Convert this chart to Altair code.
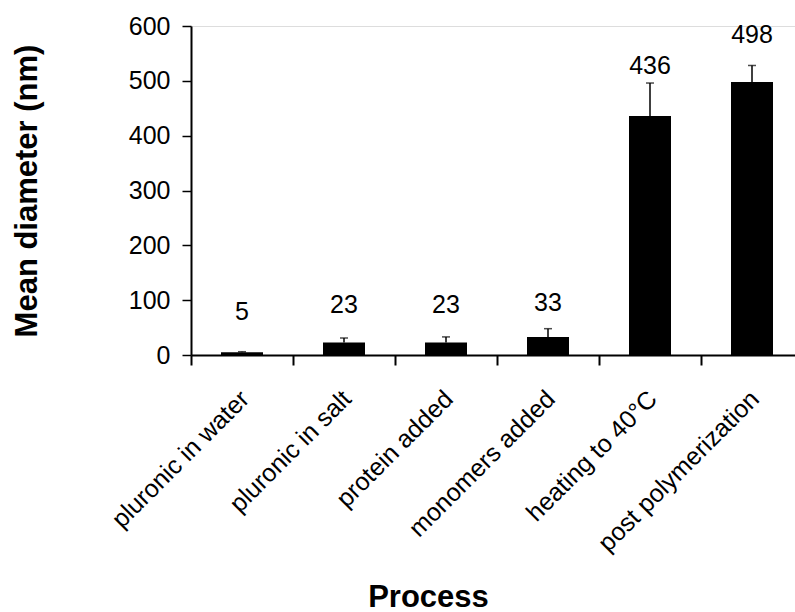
import altair as alt
import pandas as pd

processes = ["pluronic in water", "pluronic in salt", "protein added",
             "monomers added", "heating to 40°C", "post polymerization"]
mean_diameter = [5, 23, 23, 33, 436, 498]
error_up = [1, 8, 10, 15, 60, 30]
label_height = [78, 91, 91, 95, 527, 584]

df = pd.DataFrame({
    "process": processes,
    "value": mean_diameter,
    "err": error_up,
    "label_y": label_height,
})
df["upper"] = df["value"] + df["err"]

FONT = "Liberation Sans"

xscale = alt.Scale(range=[0, 612], paddingInner=0, paddingOuter=0)
x_axis = alt.Axis(
    title="Process", titleFont=FONT, titleFontSize=31, titleFontWeight="bold",
    titleColor="black", titleX=237, titleY=251, titleBaseline="alphabetic",
    titleAlign="center",
    labelAngle=-45, labelAlign="right", labelBaseline="top",
    labelFont=FONT, labelFontSize=25, labelColor="black",
    labelPadding=21, labelOffset=-6, labelLimit=0, labelOverlap=False,
    tickBand="extent", tickSize=10, tickWidth=2, tickColor="black",
    domainColor="black", domainWidth=2, grid=False,
)
y_axis = alt.Axis(
    title="Mean diameter (nm)", titleFont=FONT, titleFontSize=31,
    titleFontWeight="bold", titleColor="black", titleX=-155,
    titleBaseline="alphabetic",
    values=[0, 100, 200, 300, 400, 500, 600],
    labelFont=FONT, labelFontSize=25, labelColor="black", labelPadding=12,
    tickSize=9, tickWidth=1.5, tickColor="black",
    domainColor="black", domainWidth=2, grid=False,
)
yscale = alt.Scale(domain=[0, 600], nice=False)

X = alt.X("process:N", sort=processes, scale=xscale, axis=x_axis)

base = alt.Chart(df)

bars = base.mark_bar(size=42, color="black").encode(
    x=X,
    y=alt.Y("value:Q", scale=yscale, axis=y_axis),
)
err_line = base.mark_rule(color="black", strokeWidth=1.5).encode(
    x=alt.X("process:N", sort=processes),
    y=alt.Y("value:Q"),
    y2="upper:Q",
)
err_cap = base.mark_tick(color="black", size=8, thickness=1.5).encode(
    x=alt.X("process:N", sort=processes),
    y=alt.Y("upper:Q"),
)
labels = base.mark_text(font=FONT, fontSize=25, color="black", baseline="middle").encode(
    x=alt.X("process:N", sort=processes),
    y=alt.Y("label_y:Q"),
    text="value:Q",
)

chart = alt.layer(bars, err_line, err_cap, labels).properties(
    width=604, height=329,
    autosize=alt.AutoSizeParams(type="none"),
    padding={"left": 191, "top": 26, "right": 0, "bottom": 257},
).configure_view(stroke=None).configure(background="white")

chart.save("out.html", embed_options={"renderer": "svg", "actions": False})
